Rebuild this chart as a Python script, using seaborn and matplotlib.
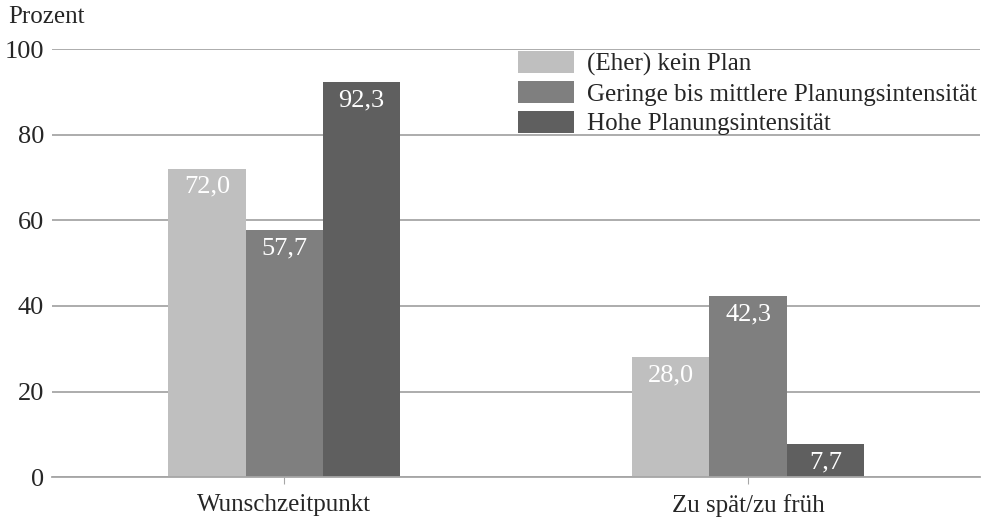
import matplotlib
matplotlib.use("Agg")
import matplotlib.pyplot as plt
import seaborn as sns
import pandas as pd

categories = ["Wunschzeitpunkt", "Zu spät/zu früh"]
series = ["(Eher) kein Plan", "Geringe bis mittlere Planungsintensität", "Hohe Planungsintensität"]
kein_plan = [72.0, 28.0]
geringe = [57.7, 42.3]
hohe = [92.3, 7.7]
colors = ["#BFBFBF", "#7F7F7F", "#5F5F5F"]

rows = []
for s, vals in zip(series, [kein_plan, geringe, hohe]):
    for c, v in zip(categories, vals):
        rows.append({"cat": c, "series": s, "val": v})
df = pd.DataFrame(rows)

sns.set_style("white")
plt.rcParams["font.family"] = ["Liberation Serif", "DejaVu Serif"]

fig = plt.figure(figsize=(9.87, 5.17), dpi=100)
ax = fig.add_axes([0.053, 0.077, 0.94, 0.828])
sns.barplot(data=df, x="cat", y="val", hue="series", palette=colors,
            order=categories, hue_order=series, width=0.5, ax=ax,
            saturation=1, edgecolor="none", linewidth=0)

ax.set_ylim(0, 100)
ax.set_xlim(-0.5, 1.5)
ax.set_yticks([0, 20, 40, 60, 80, 100])
ax.yaxis.grid(True, color="#A6A6A6", linewidth=1.3)
ax.set_axisbelow(True)
for sp in ["top", "right", "left"]:
    ax.spines[sp].set_visible(False)
ax.spines["bottom"].set_color("#A6A6A6")
ax.spines["bottom"].set_linewidth(1.3)
ax.tick_params(axis="y", length=0, labelsize=19, pad=6)
ax.tick_params(axis="x", length=5, color="#A6A6A6", labelsize=18, pad=7, bottom=True)
ax.set_xlabel("")
ax.set_ylabel("")

for cont in ax.containers:
    for bar in cont:
        h = bar.get_height()
        ax.annotate(f"{h:.1f}".replace(".", ","),
                    (bar.get_x() + bar.get_width() / 2, h),
                    xytext=(0, -5), textcoords="offset points",
                    ha="center", va="top", color="white", fontsize=19)

leg = ax.legend(loc="upper left", bbox_to_anchor=(0.502, 0.996), frameon=False,
                fontsize=18, handlelength=2.24, handleheight=1.0,
                labelspacing=0.2, handletextpad=0.5, borderaxespad=0,
                borderpad=0)

fig.text(0.008, 0.968, "Prozent", fontsize=18, va="center", ha="left")

fig.savefig("out.png", dpi=100)
